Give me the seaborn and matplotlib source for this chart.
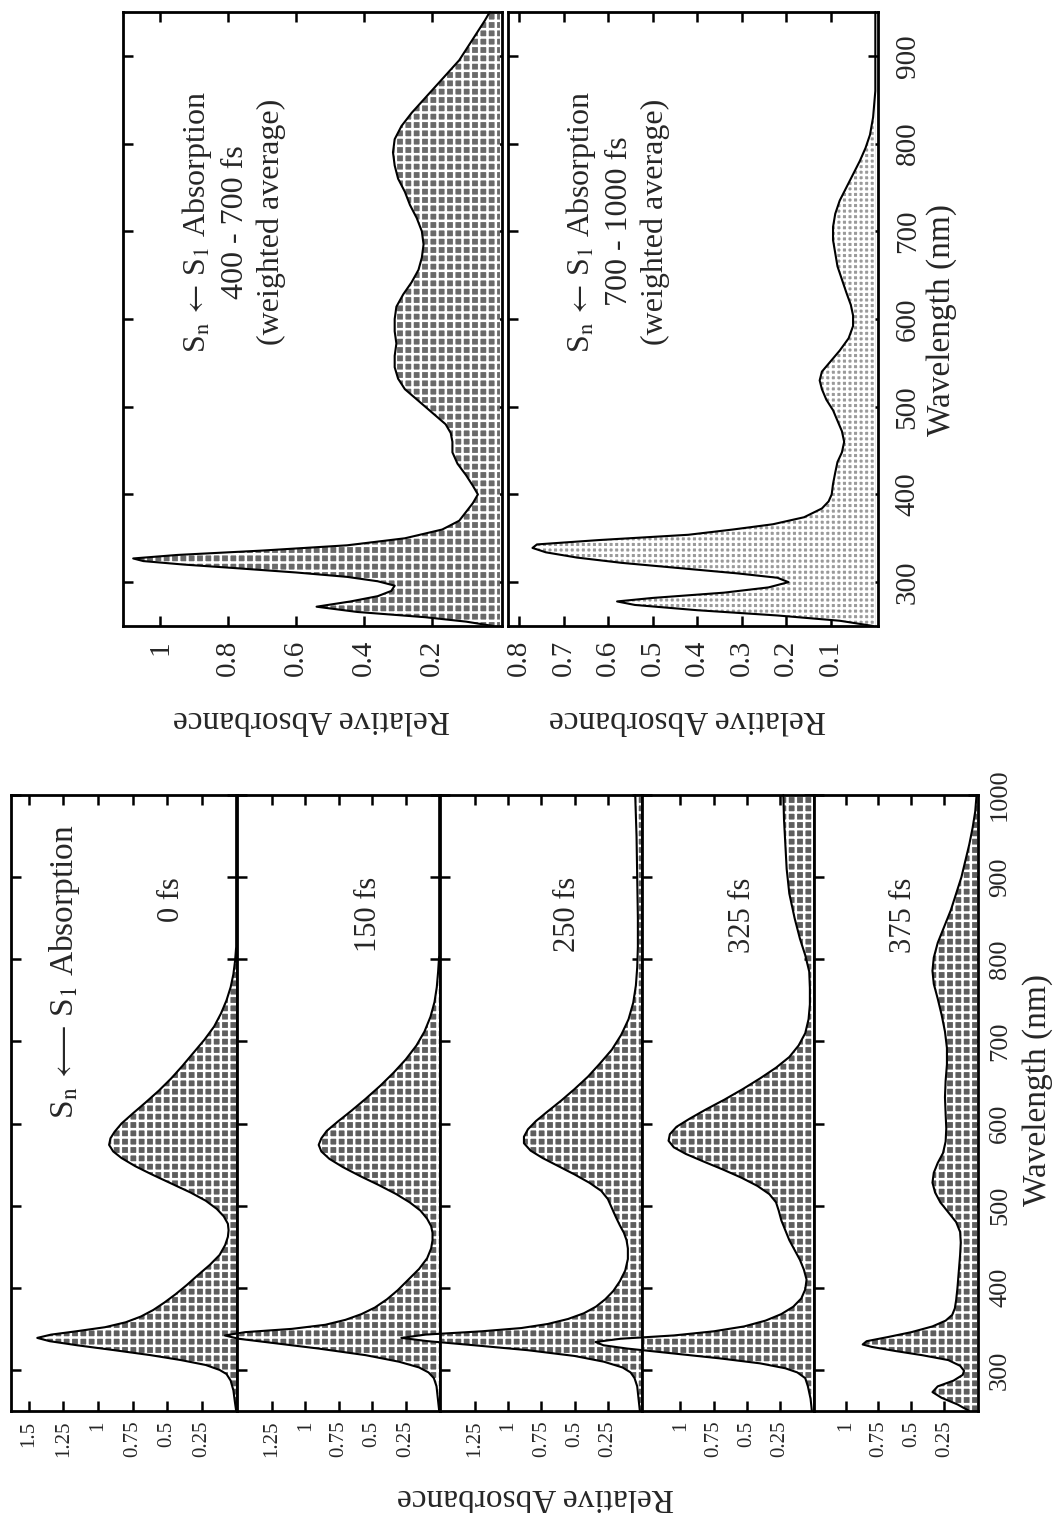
import numpy as np
import pandas as pd
import matplotlib
matplotlib.use("Agg")
import matplotlib.pyplot as plt
import seaborn as sns

# ---------------- spectra: S_n <- S_1 absorption, time series ----------------
wl_0fs = [250, 262, 275, 287, 295, 300, 306, 312, 318, 324, 330, 335, 339, 343, 347,
          352, 358, 365, 373, 382, 392, 403, 415, 428, 440, 452, 462, 470, 478, 487,
          496, 506, 516, 527, 538, 548, 558, 566, 574, 582, 590, 600, 612, 625, 640,
          655, 670, 686, 702, 718, 734, 750, 766, 782, 798, 815, 850, 900, 1000]
abs_0fs = [0.0, 0.01, 0.02, 0.04, 0.07, 0.12, 0.22, 0.40, 0.62, 0.88, 1.15, 1.35, 1.44, 1.34, 1.16,
           0.95, 0.80, 0.69, 0.60, 0.52, 0.44, 0.36, 0.28, 0.19, 0.12, 0.08, 0.06, 0.055, 0.06, 0.09,
           0.14, 0.22, 0.33, 0.47, 0.61, 0.73, 0.83, 0.89, 0.92, 0.91, 0.88, 0.83, 0.75, 0.66, 0.56,
           0.47, 0.39, 0.31, 0.23, 0.16, 0.11, 0.07, 0.04, 0.02, 0.008, 0.0, 0.0, 0.0, 0.0]

wl_150fs = [250, 265, 280, 290, 297, 303, 310, 318, 326, 333, 338, 342, 346, 350, 355,
            361, 368, 376, 386, 397, 410, 423, 436, 448, 458, 467, 475, 484, 494, 504,
            514, 525, 536, 547, 557, 566, 574, 582, 591, 602, 615, 630, 646, 662, 678,
            695, 712, 730, 748, 766, 785, 805, 850, 1000]
abs_150fs = [0.0, 0.01, 0.02, 0.04, 0.08, 0.15, 0.30, 0.55, 0.90, 1.25, 1.50, 1.60, 1.45, 1.10, 0.85,
             0.70, 0.58, 0.48, 0.39, 0.31, 0.23, 0.15, 0.09, 0.06, 0.05, 0.05, 0.06, 0.09, 0.14, 0.22,
             0.32, 0.45, 0.59, 0.72, 0.82, 0.88, 0.90, 0.88, 0.84, 0.76, 0.66, 0.55, 0.44, 0.34, 0.25,
             0.17, 0.11, 0.065, 0.035, 0.018, 0.008, 0.0, 0.0, 0.0]

wl_250fs = [250, 265, 280, 290, 297, 303, 310, 317, 324, 330, 335, 339, 343, 347, 351,
            356, 362, 369, 377, 386, 396, 408, 421, 435, 448, 458, 467, 476, 486, 497,
            508, 518, 528, 538, 548, 558, 567, 576, 584, 593, 603, 615, 628, 642, 657,
            673, 690, 708, 727, 747, 768, 790, 815, 850, 900, 950, 1000]
abs_250fs = [0.01, 0.02, 0.03, 0.05, 0.08, 0.14, 0.28, 0.50, 0.85, 1.25, 1.60, 1.80, 1.62, 1.20, 0.90,
             0.70, 0.55, 0.43, 0.34, 0.27, 0.21, 0.16, 0.12, 0.10, 0.10, 0.11, 0.13, 0.16, 0.19, 0.22,
             0.25, 0.30, 0.39, 0.50, 0.62, 0.74, 0.83, 0.88, 0.88, 0.85, 0.79, 0.70, 0.60, 0.50, 0.40,
             0.31, 0.22, 0.15, 0.095, 0.06, 0.04, 0.03, 0.025, 0.025, 0.03, 0.035, 0.045]

wl_325fs = [250, 265, 280, 290, 297, 302, 308, 314, 320, 326, 330, 334, 338, 342, 347,
            353, 360, 368, 377, 387, 398, 410, 422, 434, 446, 458, 470, 482, 494, 504,
            514, 524, 534, 544, 554, 563, 571, 579, 587, 596, 606, 617, 629, 642, 655,
            668, 681, 695, 710, 727, 745, 765, 785, 805, 825, 850, 880, 910, 940, 970, 1000]
abs_325fs = [0.01, 0.02, 0.04, 0.06, 0.12, 0.21, 0.40, 0.70, 1.05, 1.40, 1.58, 1.64, 1.45, 1.05, 0.75,
             0.52, 0.36, 0.24, 0.15, 0.09, 0.06, 0.05, 0.07, 0.10, 0.14, 0.18, 0.21, 0.24, 0.26, 0.28,
             0.33, 0.42, 0.54, 0.68, 0.83, 0.96, 1.05, 1.09, 1.08, 1.03, 0.93, 0.81, 0.67, 0.53, 0.40,
             0.28, 0.18, 0.11, 0.06, 0.035, 0.025, 0.025, 0.03, 0.06, 0.10, 0.14, 0.18, 0.20, 0.21, 0.22, 0.225]

wl_375fs = [250, 258, 266, 273, 280, 287, 294, 299, 305, 312, 318, 323, 328, 331, 335,
            340, 346, 353, 360, 367, 375, 385, 400, 420, 440, 455, 468, 480, 492, 504,
            516, 528, 540, 552, 564, 578, 594, 612, 632, 652, 672, 692, 712, 732, 752,
            770, 786, 802, 820, 840, 860, 880, 900, 920, 940, 960, 980, 1000]
abs_375fs = [0.06, 0.15, 0.27, 0.34, 0.30, 0.18, 0.11, 0.10, 0.13, 0.22, 0.42, 0.62, 0.80, 0.87, 0.84,
             0.68, 0.50, 0.34, 0.24, 0.19, 0.17, 0.16, 0.15, 0.14, 0.13, 0.125, 0.13, 0.16, 0.22, 0.28,
             0.32, 0.34, 0.33, 0.30, 0.26, 0.24, 0.235, 0.24, 0.245, 0.24, 0.23, 0.23, 0.245, 0.27, 0.30,
             0.33, 0.34, 0.33, 0.30, 0.25, 0.20, 0.16, 0.12, 0.09, 0.06, 0.035, 0.015, 0.005]

delay_labels = ["0 fs", "150 fs", "250 fs", "325 fs", "375 fs"]

# ---------------- weighted-average spectra ----------------
wl_400_700 = [250, 255, 260, 266, 272, 278, 284, 290, 296, 301, 306, 311, 316, 320, 324,
              327, 331, 336, 342, 350, 360, 370, 380, 390, 400, 410, 422, 435, 448, 460,
              470, 480, 490, 500, 510, 520, 532, 545, 558, 572, 586, 600, 614, 628, 642,
              656, 670, 685, 700, 715, 730, 745, 760, 775, 790, 805, 820, 835, 850, 865,
              880, 895, 910, 925, 940, 950]
abs_400_700 = [0.02, 0.10, 0.22, 0.42, 0.54, 0.44, 0.36, 0.32, 0.31, 0.36, 0.45, 0.60, 0.78, 0.93, 1.05,
               1.08, 0.95, 0.70, 0.45, 0.28, 0.17, 0.12, 0.10, 0.08, 0.065, 0.08, 0.10, 0.125, 0.14, 0.14,
               0.145, 0.16, 0.19, 0.22, 0.25, 0.28, 0.30, 0.31, 0.31, 0.305, 0.31, 0.31, 0.305, 0.285, 0.26,
               0.24, 0.23, 0.225, 0.23, 0.245, 0.265, 0.28, 0.30, 0.31, 0.315, 0.31, 0.29, 0.26, 0.225, 0.19,
               0.155, 0.12, 0.095, 0.07, 0.045, 0.03]

wl_700_1000 = [250, 256, 262, 268, 274, 278, 282, 288, 294, 300, 305, 310, 316, 322, 328,
               334, 339, 343, 348, 354, 360, 366, 374, 384, 392, 400, 412, 425, 437, 448,
               460, 472, 484, 496, 508, 520, 530, 540, 552, 564, 578, 592, 604, 616, 630,
               645, 660, 675, 690, 705, 720, 735, 750, 765, 780, 795, 810, 830, 860, 950]
abs_700_1000 = [0.005, 0.08, 0.22, 0.40, 0.54, 0.58, 0.50, 0.34, 0.24, 0.195, 0.22, 0.31, 0.44, 0.57, 0.67,
                0.74, 0.77, 0.76, 0.62, 0.42, 0.32, 0.23, 0.16, 0.12, 0.105, 0.098, 0.095, 0.09, 0.085, 0.075,
                0.07, 0.075, 0.085, 0.095, 0.11, 0.12, 0.125, 0.12, 0.10, 0.08, 0.06, 0.05, 0.05, 0.055, 0.065,
                0.075, 0.085, 0.09, 0.095, 0.095, 0.09, 0.08, 0.065, 0.05, 0.035, 0.022, 0.012, 0.005, 0.0, 0.0]

average_titles = ["400 - 700 fs", "700 - 1000 fs"]

# ---------------- styling ----------------
sns.set_style("white")
plt.rcParams["font.family"] = ["Liberation Serif", "DejaVu Serif"]
plt.rcParams["mathtext.fontset"] = "stix"
plt.rcParams["hatch.linewidth"] = 1.8

W, H = 1056, 1513
fig = plt.figure(figsize=(W / 100, H / 100), dpi=100)
fig.patch.set_facecolor("white")


def add_panel(x0, x1, ytop, ybot):
    return fig.add_axes([x0 / W, 1 - ybot / H, (x1 - x0) / W, (ybot - ytop) / H])


def draw_spectrum(ax, wl, ab, amax, face, hatch, hcolor):
    df = pd.DataFrame({"wavelength": wl, "absorbance": ab})
    inside = np.minimum(df["absorbance"].to_numpy(), amax)
    ax.fill_betweenx(df["wavelength"], 0, inside, facecolor=face, edgecolor=hcolor,
                     hatch=hatch, linewidth=0, zorder=1)
    over = (df["absorbance"] > amax).to_numpy()
    if over.any():
        ax.fill_betweenx(df["wavelength"], amax, df["absorbance"], where=over,
                         interpolate=True, facecolor="white", linewidth=0,
                         clip_on=False, zorder=1.5)
    sns.lineplot(data=df, x="absorbance", y="wavelength", orient="y", estimator=None,
                 sort=True, color="black", linewidth=1.5, ax=ax)
    ax.lines[-1].set_clip_on(False)
    ax.lines[-1].set_zorder(2)


def style_panel(ax, amax, aticks, alabels, wlim, wticks, show_wl, fs_a, fs_w, pad_a, pad_w):
    ax.set_xlim(amax, -0.006)
    ax.set_ylim(*wlim)
    ax.set_xticks(aticks)
    ax.set_xticklabels(alabels, rotation=90, fontsize=fs_a)
    ax.set_yticks(wticks)
    ax.set_yticklabels([str(w) for w in wticks], fontsize=fs_w)
    ax.tick_params(axis="both", direction="in", length=7, width=1.8, color="black",
                   top=True, bottom=True, left=True, right=True)
    ax.tick_params(axis="x", labelbottom=True, labeltop=False, pad=pad_a)
    ax.tick_params(axis="y", labelleft=False, labelright=show_wl, pad=pad_w, labelrotation=90)
    for lab in ax.get_yticklabels():
        lab.set_va("center")
    for sp in ax.spines.values():
        sp.set_visible(True)
        sp.set_color("black")
        sp.set_linewidth(2.0)
    ax.set_xlabel("")
    ax.set_ylabel("")
    ax.set_facecolor("white")


title_long = r"S$_\mathrm{n}$$\,\longleftarrow\,$S$_\mathrm{1}$ Absorption"
title_short = r"S$_\mathrm{n}$$\,\leftarrow\,$S$_\mathrm{1}$ Absorption"

# ---------------- time-series stack ----------------
stack_edges = [11, 237, 440, 642, 814, 978]
stack_max = [1.63, 1.51, 1.51, 1.29, 1.24]
stack_ticks = [[1.5, 1.25, 1, 0.75, 0.5, 0.25],
               [1.25, 1, 0.75, 0.5, 0.25],
               [1.25, 1, 0.75, 0.5, 0.25],
               [1, 0.75, 0.5, 0.25],
               [1, 0.75, 0.5, 0.25]]
stack_label_pos = [0.47, 0.53, 0.55, 0.53, 0.56]
stack_wl = [wl_0fs, wl_150fs, wl_250fs, wl_325fs, wl_375fs]
stack_abs = [abs_0fs, abs_150fs, abs_250fs, abs_325fs, abs_375fs]
wl_ticks_stack = [300, 400, 500, 600, 700, 800, 900, 1000]

for i in range(5):
    ax = add_panel(stack_edges[i], stack_edges[i + 1], 795, 1411)
    draw_spectrum(ax, stack_wl[i], stack_abs[i], stack_max[i],
                  face="#5e5e5e", hatch="++", hcolor="white")
    labels = ["1" if t == 1 else f"{t:g}" for t in stack_ticks[i]]
    style_panel(ax, stack_max[i], stack_ticks[i], labels, (250, 1000), wl_ticks_stack,
                show_wl=(i == 4), fs_a=15, fs_w=19, pad_a=7, pad_w=8)
    ax.text(stack_label_pos[i], 900, delay_labels[i], rotation=90, ha="center", va="top",
            fontsize=22)
    if i == 0:
        ax.text(1.24, 785, title_long, rotation=90, ha="center", va="center", fontsize=24)

fig.text(1038 / W, 1 - 1090 / H, "Wavelength (nm)", rotation=90, ha="center", va="center",
         fontsize=24)
fig.text(536 / W, 1 - 1497 / H, "Relative Absorbance", rotation=180, ha="center",
         va="center", fontsize=24)

# ---------------- weighted averages ----------------
avg_edges = [(123, 502), (508, 878)]
avg_max = [1.11, 0.825]
avg_ticks = [[1, 0.8, 0.6, 0.4, 0.2],
             [0.8, 0.7, 0.6, 0.5, 0.4, 0.3, 0.2, 0.1]]
avg_wl = [wl_400_700, wl_700_1000]
avg_abs = [abs_400_700, abs_700_1000]
avg_fill = [("#6a6a6a", "++", "white"), ("#9a9a9a", "+++", "white")]
avg_text_pos = [0.785, 0.58]
avg_label_x = [311, 688]
wl_ticks_avg = [300, 400, 500, 600, 700, 800, 900]

for i in range(2):
    x0, x1 = avg_edges[i]
    ax = add_panel(x0, x1, 12, 626)
    face, hatch, hcol = avg_fill[i]
    draw_spectrum(ax, avg_wl[i], avg_abs[i], avg_max[i], face=face, hatch=hatch, hcolor=hcol)
    labels = ["1" if t == 1 else f"{t:g}" for t in avg_ticks[i]]
    style_panel(ax, avg_max[i], avg_ticks[i], labels, (250, 950), wl_ticks_avg,
                show_wl=(i == 1), fs_a=21, fs_w=21, pad_a=10, pad_w=12)
    ax.text(avg_text_pos[i], 711,
            title_short + "\n" + average_titles[i] + "\n(weighted average)",
            rotation=90, ha="center", va="center", multialignment="center",
            linespacing=1.3, fontsize=23)
    fig.text(avg_label_x[i] / W, 1 - 719 / H, "Relative Absorbance", rotation=180,
             ha="center", va="center", fontsize=24)

fig.text(942 / W, 1 - 320 / H, "Wavelength (nm)", rotation=90, ha="center", va="center",
         fontsize=24)

fig.savefig("out.png", dpi=100, facecolor="white")
